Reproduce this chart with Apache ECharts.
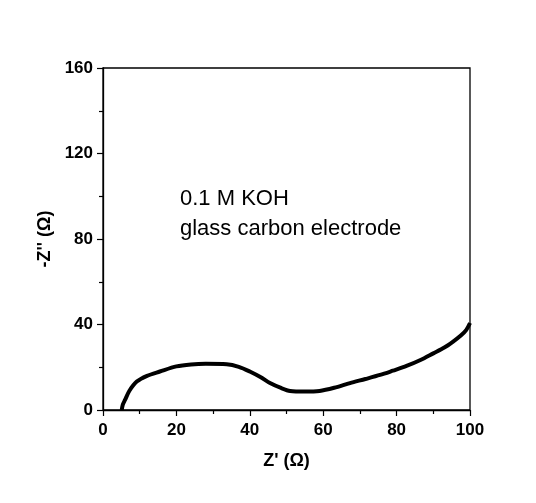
<!DOCTYPE html>
<html>
<head>
<meta charset="utf-8">
<script src="https://cdn.jsdelivr.net/npm/echarts@6/dist/echarts.min.js"></script>
<style>
  html, body { margin: 0; padding: 0; background: #fff; }
  #chart { width: 536px; height: 503px; }
</style>
</head>
<body>
<div id="chart"></div>
<script>
// Nyquist plot, values
const zReal = [5.1, 5.4, 6, 7.2, 9.2, 12, 15.5, 20, 24, 28, 33.7, 37, 40, 43, 45.5, 48.5, 51, 55, 59, 63, 67.3, 71.5, 75.5, 79, 82.7, 86.5, 90, 93, 95.4, 97.5, 99, 100]
const zImag = [0, 2.5, 4.7, 9, 13.3, 16, 18, 20.4, 21.3, 21.6, 21.4, 20.2, 18, 15.3, 12.6, 10.3, 8.9, 8.6, 8.9, 10.4, 12.6, 14.5, 16.4, 18.4, 20.6, 23.4, 26.5, 29.2, 32, 34.8, 37.5, 40.7]
const xTicks = [0, 20, 40, 60, 80, 100]
const yTicks = [0, 40, 80, 120, 160]
const notes = ['0.1 M KOH', 'glass carbon electrode']

const chart = echarts.init(document.getElementById('chart'))
const points = zReal.map((x, i) => [x, zImag[i]])
const font = 'Arial, "Liberation Sans", sans-serif'

chart.setOption({
  animation: false,
  backgroundColor: '#fff',
  grid: {
    left: 103,
    top: 68,
    right: 66,
    bottom: 93,
    show: true,
    borderColor: '#000',
    borderWidth: 1.3
  },
  xAxis: {
    type: 'value',
    min: xTicks[0],
    max: xTicks[xTicks.length - 1],
    interval: 20,
    name: "Z' (\u03a9)",
    nameLocation: 'middle',
    nameGap: 42,
    nameTextStyle: { color: '#000', fontFamily: font, fontWeight: 'bold', fontSize: 18 },
    axisLine: { lineStyle: { color: '#000', width: 1.3 } },
    axisTick: { length: 6, lineStyle: { color: '#000', width: 1.2 } },
    minorTick: { show: true, splitNumber: 2, length: 4, lineStyle: { color: '#000', width: 1.2 } },
    axisLabel: { color: '#000', fontFamily: font, fontWeight: 'bold', fontSize: 17, margin: 12 },
    splitLine: { show: false }
  },
  yAxis: {
    type: 'value',
    min: yTicks[0],
    max: yTicks[yTicks.length - 1],
    interval: 40,
    name: "-Z'' (\u03a9)",
    nameLocation: 'middle',
    nameGap: 48,
    nameTextStyle: { color: '#000', fontFamily: font, fontWeight: 'bold', fontSize: 18 },
    axisLine: { show: true, lineStyle: { color: '#000', width: 1.3 } },
    axisTick: { show: true, length: 6, lineStyle: { color: '#000', width: 1.2 } },
    minorTick: { show: true, splitNumber: 2, length: 4, lineStyle: { color: '#000', width: 1.2 } },
    axisLabel: { color: '#000', fontFamily: font, fontWeight: 'bold', fontSize: 17, margin: 10 },
    splitLine: { show: false }
  },
  graphic: [
    {
      type: 'text',
      left: 180,
      top: 184,
      style: {
        text: notes.join('\n'),
        fill: '#000',
        font: '22px ' + font,
        lineHeight: 30
      }
    }
  ],
  series: [
    {
      type: 'line',
      data: points,
      smooth: 0.3,
      symbol: 'none',
      lineStyle: { color: '#000', width: 4 }
    }
  ]
})
</script>
</body>
</html>
